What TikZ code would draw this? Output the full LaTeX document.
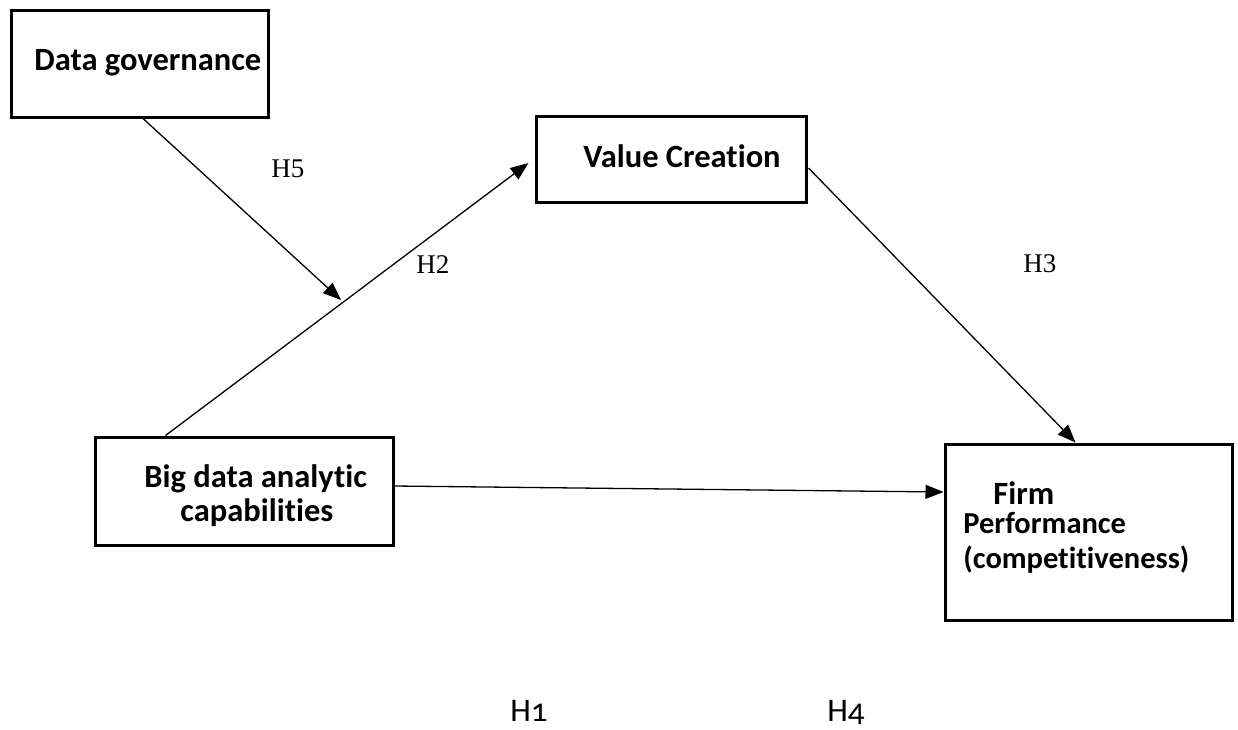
\documentclass[tikz,border=0pt]{standalone}
\usepackage{fontspec}
\setmainfont{Liberation Serif}
\newfontfamily\boxfont[Ligatures=NoCommon]{Carlito}
\newfontfamily\hfont[Numbers=OldStyle]{Carlito}
\usetikzlibrary{arrows.meta,calc}

\tikzset{every picture/.style={line width=0.75pt}}
\tikzset{
  box/.style={draw, line width=3pt, rectangle, inner sep=0pt},
  boxtxt/.style={anchor=base west, inner sep=0pt, font=\boxfont\bfseries\fontsize{32.5}{36}\selectfont, align=left},
  smalltxt/.style={boxtxt, font=\boxfont\bfseries\fontsize{30.5}{34}\selectfont},
  hyp/.style={anchor=base west, inner sep=0pt, font=\fontsize{27}{30}\selectfont},
  hypb/.style={anchor=base west, inner sep=0pt, font=\hfont\fontsize{33}{36}\selectfont},
  arr/.style={line width=1.3pt, -{Triangle[length=18pt,width=14pt]}}
}

\begin{document}
\begin{tikzpicture}[x=1pt,y=1pt,yscale=-1,xscale=1]
		\useasboundingbox (0,0) rectangle (1238,729);
		
		% Boxes
		\node [box, minimum width=257, minimum height=107] (dgov) at (139.5,63.5) {};
		\node [box, minimum width=270, minimum height=86] (value) at (671,159) {};
		\node [box, minimum width=298, minimum height=108] (bdac) at (244,491) {};
		\node [box, minimum width=287, minimum height=176] (firm) at (1088.5,532) {};
		
		% Box texts
		\node [boxtxt] (dgovtxt) at (34,70) {Data governance};
		\node [boxtxt] (valuetxt) at (583,167) {Value Creation};
		\node [boxtxt] (bdactxt1) at (144,487) {Big data analytic};
		\node [boxtxt] (bdactxt2) at (180,521) {capabilities};
		\node [boxtxt] (firmtxt1) at (993,504) {Firm};
		\node [smalltxt] (firmtxt2) at (963,533) {Performance};
		\node [smalltxt] (firmtxt3) at (963,568) {(competitiveness)};
		
		% Connectors
		\coordinate (moderate) at (341,300);
		\draw [arr] ($(dgov.south)+(3.5,0)$) -- (moderate);
		\draw [arr] ($(bdac.north west)+(72,0)$) -- ($(value.west)+(-6,4)$);
		\draw [arr] ($(value.east)+(1,9)$) -- ($(firm.north)+(-13,0)$);
		\draw [arr] ($(bdac.east)+(0,-5)$) -- ($(firm.west)+(0,-40)$);
		
		% Hypothesis labels
		\node [hyp] (h5) at (271,177) {H5};
		\node [hyp] (h2) at (416,273) {H2};
		\node [hyp] (h3) at (1023,272) {H3};
		\node [hypb] (h1) at (510,721) {H1};
		\node [hypb] (h4) at (827,721) {H4};
		
	\end{tikzpicture}
\end{document}
